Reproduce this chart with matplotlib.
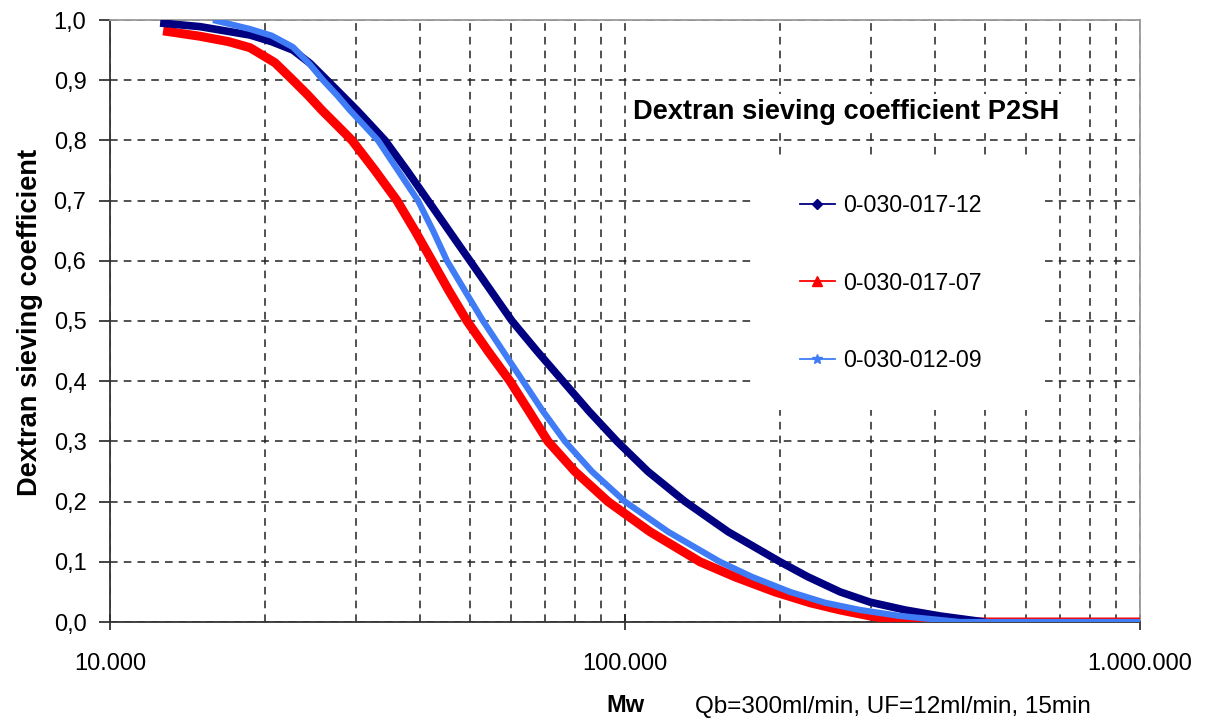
import matplotlib
matplotlib.use("Agg")
from matplotlib import pyplot as plt
from matplotlib.lines import Line2D
from matplotlib.patches import Rectangle
from matplotlib.ticker import FixedLocator, FuncFormatter, NullFormatter

plt.rcParams['font.family'] = ['Liberation Sans', 'DejaVu Sans']

# values (Mw, sieving coefficient)
mw_12 = [12510, 14950, 18700, 20600, 22660, 24460, 26390, 28220, 30170, 32130, 34200,
         37730, 41450, 45520, 50010, 54930, 60340, 67480, 75790, 85140, 96490,
         110800, 130800, 158500, 200000, 226600, 261600, 299100, 349800, 408900,
         500000]
sc_12 = [0.995, 0.989, 0.975, 0.964, 0.950, 0.928, 0.90, 0.875, 0.85, 0.825, 0.80,
         0.75, 0.70, 0.65, 0.60, 0.55, 0.50, 0.45, 0.40, 0.35, 0.30,
         0.25, 0.20, 0.15, 0.10, 0.075, 0.05, 0.033, 0.02, 0.01,
         0.0]

mw_07 = [12680, 14950, 17000, 18700, 20910, 22660, 24240, 25800, 27600, 29510, 32710,
         36080, 39100, 42200, 45520, 49340, 54200, 59800, 65110, 70870, 79960,
         92690, 111800, 139850, 163500, 195600, 228700, 261600, 299100, 357700,
         1000000]
sc_07 = [0.982, 0.973, 0.964, 0.954, 0.929, 0.90, 0.875, 0.85, 0.825, 0.80, 0.75,
         0.70, 0.65, 0.60, 0.55, 0.50, 0.45, 0.40, 0.35, 0.30, 0.25,
         0.20, 0.15, 0.10, 0.075, 0.05, 0.032, 0.02, 0.01, 0.0,
         0.0]

mw_09 = [15850, 18700, 20600, 22660, 24460, 25920, 27600, 29240, 31140, 33140, 36240,
         39630, 42390, 45120, 48900, 53020, 57960, 63380, 69300, 76460, 86280,
         100000, 121200, 152900, 176400, 209100, 244600, 286000, 342000, 447300,
         1000000]
sc_09 = [1.0, 0.985, 0.974, 0.955, 0.926, 0.90, 0.875, 0.85, 0.825, 0.80, 0.75,
         0.70, 0.65, 0.60, 0.55, 0.50, 0.45, 0.40, 0.35, 0.30, 0.25,
         0.20, 0.15, 0.10, 0.075, 0.05, 0.032, 0.02, 0.01, 0.0,
         0.0]

labels = ["0-030-017-12", "0-030-017-07", "0-030-012-09"]
navy, red, light = "#000080", "#ff0000", "#3f7cf5"

W, H = 1210, 722
fig = plt.figure(figsize=(W / 100, H / 100), dpi=100)
ax = fig.add_axes([110 / W, 1 - 622 / H, 1030 / W, 602 / H])

ax.plot(mw_07, sc_07, color=red, lw=6.5, solid_capstyle="butt",
        solid_joinstyle="round", zorder=3)
ax.plot(mw_12, sc_12, color=navy, lw=5.5, solid_capstyle="butt",
        solid_joinstyle="round", zorder=4)
ax.plot(mw_09, sc_09, color=light, lw=4.5, solid_capstyle="butt",
        solid_joinstyle="round", zorder=5)

ax.set_xscale("log")
ax.set_xlim(1e4, 1e6)
ax.set_ylim(0, 1)

ax.xaxis.set_major_locator(FixedLocator([1e4, 1e5, 1e6]))
ax.xaxis.set_minor_locator(FixedLocator([m * 10 ** e for e in (4, 5) for m in range(2, 10)]))
ax.xaxis.set_major_formatter(FuncFormatter(lambda v, p: f"{int(round(v)):,}".replace(",", ".")))
ax.xaxis.set_minor_formatter(NullFormatter())
ax.yaxis.set_major_locator(FixedLocator([i / 10 for i in range(11)]))
ax.yaxis.set_major_formatter(FuncFormatter(lambda v, p: f"{v:.1f}".replace(".", ",")))

ax.tick_params(axis="x", which="major", direction="inout", length=12, width=1.2,
               color="#222222", labelsize=17, pad=16)
ax.tick_params(axis="x", which="minor", length=0)
ax.tick_params(axis="y", direction="out", length=8, width=1.2, color="#222222",
               labelsize=17, pad=9)

ax.set_axisbelow(True)
ax.grid(which="both", axis="x", ls=(0, (5, 4)), color="#222222", lw=1.1)
ax.grid(which="major", axis="y", ls=(0, (5, 4)), color="#222222", lw=1.1)

for s in ("left", "bottom"):
    ax.spines[s].set_color("#333333")
    ax.spines[s].set_linewidth(1.3)
for s in ("top", "right"):
    ax.spines[s].set_color("#9a9a9a")
    ax.spines[s].set_linewidth(1.3)

# white area behind the legend
fig.patches.append(Rectangle((755 / W, 1 - 410 / H), 287 / W, 250 / H,
                             transform=fig.transFigure, facecolor="white",
                             edgecolor="none", zorder=2))

handles = [
    Line2D([], [], color=navy, lw=1.3, marker="D", ms=5),
    Line2D([], [], color=red, lw=1.3, marker="^", ms=7),
    Line2D([], [], color=light, lw=1.3, marker="*", ms=7),
]
fig.legend(handles, labels, loc="upper left", bbox_to_anchor=(800 / W, 1 - 194 / H),
           frameon=False, fontsize=16.7, borderpad=0, borderaxespad=0,
           handlelength=1.5, handletextpad=0.35, labelspacing=2.35)

fig.text(633 / W, 1 - 112 / H, "Dextran sieving coefficient P2SH", fontsize=19.6,
         fontweight="bold", ha="left", va="center",
         bbox=dict(facecolor="white", edgecolor="none", pad=4))

fig.text(30 / W, 1 - 322 / H, "Dextran sieving coefficient", fontsize=19.6,
         fontweight="bold", rotation=90, ha="center", va="center")
fig.text(625 / W, 1 - 705 / H, "Mw", fontsize=17, fontweight="bold",
         ha="center", va="center")
fig.text(695 / W, 1 - 707 / H, "Qb=300ml/min, UF=12ml/min, 15min", fontsize=17.5,
         ha="left", va="center")

fig.savefig("out.png", dpi=100)
